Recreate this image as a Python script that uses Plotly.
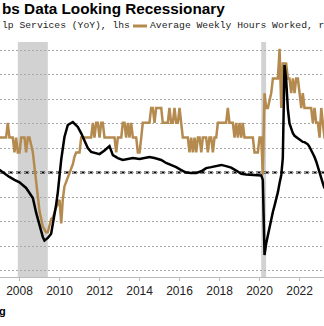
import pandas as pd
import plotly.graph_objects as go

# ---- Data ----
temp_dates = ["2006-10","2006-12","2007-03","2007-07","2007-10","2008-01","2008-05","2008-09","2008-11","2009-01",
              "2009-03","2009-04","2009-06","2009-08","2009-10","2009-11","2009-12","2010-01","2010-02","2010-04",
              "2010-06","2010-09","2010-12","2011-02","2011-04","2011-06","2011-08","2011-11","2012-01","2012-04",
              "2012-07","2012-09","2012-12","2013-03","2013-06","2013-09","2014-01","2014-04","2014-07","2014-10",
              "2015-02","2015-05","2015-08","2015-11","2016-02","2016-05","2016-08","2016-11","2017-02","2017-05",
              "2017-08","2017-11","2018-02","2018-05","2018-08","2018-11","2019-02","2019-05","2019-08","2019-11",
              "2020-02","2020-03","2020-04","2020-05","2020-06","2020-07","2020-08","2020-09","2020-10","2020-11",
              "2020-12","2021-01","2021-02","2021-03","2021-04","2021-05","2021-06","2021-07","2021-08","2021-09",
              "2021-10","2021-11","2021-12","2022-01","2022-02","2022-03","2022-04","2022-05","2022-06","2022-07",
              "2022-08","2022-09","2022-10","2022-11","2022-12","2023-01","2023-02","2023-03","2023-04"]
temp_yoy = [2.5, 1.5, 0.3, -1.8, -3.0, -4.0, -6.3, -10.4, -16.5, -22.0,
            -26.3, -27.8, -26.7, -25.0, -18.0, -13.0, -8.0, 0.0, 5.3, 14.5,
            19.4, 20.6, 18.6, 16.0, 13.3, 10.0, 8.4, 8.0, 7.5, 9.0,
            10.8, 7.1, 5.9, 5.1, 5.5, 5.9, 5.5, 6.0, 6.3, 5.9,
            5.1, 3.9, 3.1, 2.2, 1.0, 0.0, -0.2, -0.2, 0.5, 1.8,
            2.2, 2.6, 3.1, 2.6, 2.0, 0.8, -0.5, -0.8, -1.0, -1.0,
            -1.2, -3.0, -33.7, -29.0, -25.5, -22.0, -19.0, -16.0, -13.5, -11.0,
            -8.0, -4.3, -1.0, 6.0, 43.9, 38.0, 26.0, 20.0, 17.5, 16.0,
            15.0, 14.5, 14.0, 13.5, 13.0, 12.5, 12.4, 12.0, 11.5, 10.5,
            9.2, 8.0, 6.3, 4.5, 2.5, 0.0, -2.0, -4.3, -6.5]

hours_start = "2006-10-01"
hours_values = [
    34.4, 34.4, 34.4,                                                             # 2006 Q4
    34.4, 34.4, 34.4, 34.4, 34.4, 34.5, 34.4, 34.4, 34.4, 34.3, 34.4, 34.3,       # 2007
    34.3, 34.4, 34.4, 34.4, 34.3, 34.4, 34.4, 34.35, 34.3, 34.2, 34.1, 34.0,      # 2008
    33.9, 33.85, 33.8, 33.78, 33.76, 33.76, 33.8, 33.85, 33.86, 33.9, 33.93, 33.95,  # 2009
    33.98, 33.82, 33.98, 34.07, 34.1, 34.13, 34.15, 34.18, 34.22, 34.27, 34.3, 34.3,  # 2010
    34.3, 34.4, 34.4, 34.4, 34.4, 34.4, 34.4, 34.4, 34.5, 34.4, 34.5, 34.5,       # 2011
    34.4, 34.5, 34.5, 34.4, 34.4, 34.4, 34.4, 34.4, 34.4, 34.4, 34.3, 34.4,       # 2012
    34.4, 34.4, 34.5, 34.5, 34.4, 34.5, 34.4, 34.5, 34.4, 34.4, 34.4, 34.3,       # 2013
    34.3, 34.4, 34.5, 34.5, 34.5, 34.5, 34.5, 34.6, 34.6, 34.5, 34.6, 34.6,       # 2014
    34.6, 34.6, 34.5, 34.5, 34.5, 34.5, 34.6, 34.5, 34.5, 34.6, 34.5, 34.5,       # 2015
    34.6, 34.5, 34.4, 34.4, 34.4, 34.4, 34.3, 34.4, 34.3, 34.4, 34.3, 34.4,       # 2016
    34.4, 34.3, 34.4, 34.4, 34.4, 34.3, 34.4, 34.4, 34.3, 34.4, 34.4, 34.5,       # 2017
    34.5, 34.5, 34.5, 34.5, 34.5, 34.6, 34.5, 34.5, 34.5, 34.4, 34.5, 34.4,       # 2018
    34.5, 34.4, 34.5, 34.4, 34.4, 34.4, 34.4, 34.4, 34.4, 34.3, 34.3, 34.3,       # 2019
    34.4, 34.4, 34.15, 34.7, 34.6, 34.6, 34.65, 34.7, 34.8, 34.8, 34.8, 34.8,     # 2020
    35.0, 34.6, 34.9, 34.9, 34.9, 34.8, 34.8, 34.7, 34.8, 34.7, 34.8, 34.8,       # 2021
    34.7, 34.6, 34.7, 34.6, 34.6, 34.6, 34.6, 34.6, 34.5, 34.6, 34.5, 34.5,       # 2022
    34.4, 34.6, 34.5, 34.4, 34.4,                                                 # 2023
]
hours_dates = pd.date_range(hours_start, periods=len(hours_values), freq="MS")

recessions = [("2007-12-01", "2009-06-01"), ("2020-02-01", "2020-04-30")]
year_ticks = [f"{y}-01-01" for y in range(2008, 2023, 2)]
year_labels = [str(y) for y in range(2008, 2023, 2)]

title_text = "bs Data Looking Recessionary"
legend_left = "lp Services (YoY), lhs"
legend_right = "Average Weekly Hours Worked, r"

BLACK = "#000000"
GOLD = "#b48a4f"

W, H = 324, 326
T, B = 42, 49
PH = H - T - B


def py(px):  # pixel y -> paper y
    return (H - B - px) / PH


def pxx(px):  # pixel x -> paper x
    return px / W


fig = go.Figure()
fig.add_trace(go.Scatter(x=hours_dates, y=hours_values, mode="lines",
                         line=dict(color=GOLD, width=2.5), yaxis="y",
                         name="Average Weekly Hours Worked, rhs"))
fig.add_trace(go.Scatter(x=temp_dates, y=temp_yoy, mode="lines",
                         line=dict(color=BLACK, width=2.5), yaxis="y2",
                         name="Temporary Help Services (YoY), lhs"))

shapes = []
for a, b in recessions:
    shapes.append(dict(type="rect", xref="x", yref="paper", x0=a, x1=b, y0=0, y1=1,
                       fillcolor="#d2d2d2", line=dict(width=0), layer="below"))
shapes.append(dict(type="line", xref="paper", yref="y2", x0=0, x1=1, y0=0, y1=0,
                   line=dict(color=BLACK, width=1.8, dash="5px,3px"), layer="between"))
shapes.append(dict(type="line", xref="paper", yref="paper", x0=pxx(133), x1=pxx(147),
                   y0=py(26), y1=py(26), line=dict(color=GOLD, width=3)))

annotations = [
    dict(text=f"<b>{title_text}</b>", xref="paper", yref="paper", x=0, y=py(9),
         xanchor="left", yanchor="middle", showarrow=False,
         font=dict(family="Liberation Sans", size=15.3, color="#000000")),
    dict(text=legend_left, xref="paper", yref="paper", x=0, y=py(26),
         xanchor="left", yanchor="middle", showarrow=False,
         font=dict(family="Liberation Mono", size=9.7, color="#222222")),
    dict(text=legend_right, xref="paper", yref="paper", x=pxx(148), y=py(26),
         xanchor="left", yanchor="middle", showarrow=False,
         font=dict(family="Liberation Mono", size=9.7, color="#222222")),
    dict(text="<b>g</b>", xref="paper", yref="paper", x=pxx(-3), y=py(311),
         xanchor="left", yanchor="middle", showarrow=False,
         font=dict(family="Liberation Sans", size=11, color="#000000")),
]

fig.update_layout(
    width=W, height=H,
    margin=dict(l=0, r=0, t=T, b=B, pad=0),
    paper_bgcolor="white", plot_bgcolor="white",
    showlegend=False,
    shapes=shapes, annotations=annotations,
    xaxis=dict(type="date", range=["2007-01-10", "2023-03-23"],
               tickvals=year_ticks, ticktext=year_labels,
               ticks="outside", ticklen=3, tickcolor="#bbbbbb",
               showline=True, linecolor="#bbbbbb", linewidth=1,
               showgrid=False, zeroline=False,
               tickfont=dict(family="Liberation Sans", size=12, color="#222222")),
    yaxis=dict(range=[33.458, 35.046], showticklabels=False, showgrid=False,
               zeroline=False, ticks=""),
    yaxis2=dict(range=[-42.65, 53.27], overlaying="y", side="left",
                tick0=0, dtick=10, showticklabels=False, ticks="",
                showgrid=True, gridcolor="#a8a8a8", gridwidth=1, griddash="2px,2px",
                zeroline=False),
)

fig.write_html("out.html")
